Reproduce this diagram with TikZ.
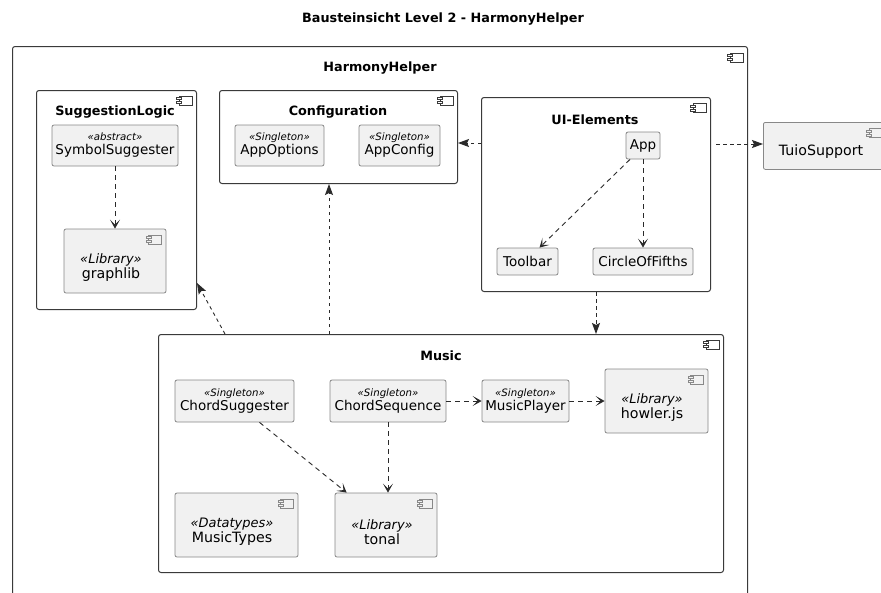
\documentclass[tikz,border=0pt]{standalone}
\usepackage{fontspec}
\setmainfont{DejaVu Sans}
\usetikzlibrary{arrows.meta,calc}
\definecolor{boxfill}{HTML}{F1F1F1}
\definecolor{darkline}{HTML}{3A3A3A}
\definecolor{lightline}{HTML}{888888}
\definecolor{arrowcol}{HTML}{2A2A2A}
\newcommand{\nm}{\fontsize{13.5}{15}\selectfont}
\newcommand{\cnm}{\fontsize{14.2}{16}\selectfont}
\newcommand{\stsmall}{\fontsize{10.2}{12}\selectfont\itshape}
\newcommand{\stbig}{\fontsize{13}{14}\selectfont\itshape}
\newcommand{\hd}{\fontsize{12.8}{15}\selectfont\bfseries}
\tikzset{
  x=1pt, y=-1pt,
  container/.style={draw=darkline, line width=1pt, fill=white, rounded corners=2.5pt, inner sep=0pt},
  classbox/.style={draw=lightline, line width=0.8pt, fill=boxfill, rounded corners=2pt, inner sep=0pt, align=center, font=\nm},
  compbox/.style={draw=lightline, line width=0.8pt, fill=boxfill, rounded corners=2pt, inner sep=0pt},
  lbl/.style={inner sep=0pt, align=center, font=\cnm},
  head/.style={inner sep=0pt, font=\hd},
  compicon/.pic={
    \draw[pic actions] (-6,-4.5) rectangle (7,4.5);
    \draw[pic actions] (-8.5,-3) rectangle (-3.5,-1);
    \draw[pic actions] (-8.5,1) rectangle (-3.5,3);
  },
  darkicon/.style={draw=darkline, line width=0.8pt, fill=white},
  lighticon/.style={draw=lightline, line width=0.7pt, fill=boxfill},
  innerdep/.style={draw=arrowcol, line width=0.9pt, dash pattern=on 5pt off 4pt,
    -{Stealth[length=9pt, width=10pt, inset=5pt]}},
  outerdep/.style={draw=arrowcol, line width=0.9pt, dash pattern=on 3.5pt off 3.5pt,
    -{Stealth[length=11pt, width=8pt, inset=2pt]}},
}
\begin{document}
\begin{tikzpicture}
\useasboundingbox (0,0) rectangle (881,592);
\clip (0,0) rectangle (881,592);
\fill[white] (0,0) rectangle (881,592);

% title
\node[head] (title) at (443,19) {Bausteinsicht Level 2 - HarmonyHelper};

% outer container
\node[container, minimum width=735pt, minimum height=640pt, anchor=north west] (hh) at (12,46) {};
\pic[darkicon] at ($(hh.north east)+(-12,11.5)$) {compicon};
\node[head] (hhlbl) at (380,68) {HarmonyHelper};

% external component
\node[compbox, minimum width=130pt, minimum height=47pt, anchor=north west] (tuio) at (763,122) {};
\pic[lighticon] at ($(tuio.north west)+(112,11)$) {compicon};
\node[lbl] (tuiolbl) at (821,152) {TuioSupport};

% SuggestionLogic
\node[container, minimum width=160pt, minimum height=219pt, anchor=north west] (sugg) at (36,90) {};
\pic[darkicon] at ($(sugg.north east)+(-12,10.5)$) {compicon};
\node[head] (sugglbl) at (115,112) {SuggestionLogic};
\node[classbox, minimum width=126pt, minimum height=41pt] (symsug) at (115,145.5)
  {{\stsmall «abstract»}\\[-1pt]SymbolSuggester};
\node[compbox, minimum width=102pt, minimum height=64pt] (graphlib) at (115,261) {};
\pic[lighticon] at ($(graphlib.north east)+(-12,11)$) {compicon};
\node[lbl] (graphliblbl) at (111,268) {{\stbig «Library»}\\[-1pt]graphlib};

% Configuration
\node[container, minimum width=238pt, minimum height=93pt, anchor=north west] (config) at (219,90) {};
\pic[darkicon] at ($(config.north east)+(-12,10.5)$) {compicon};
\node[head] (configlbl) at (338,112) {Configuration};
\node[classbox, minimum width=89pt, minimum height=41pt] (appopt) at (279.5,145.5)
  {{\stsmall «Singleton»}\\[-1pt]AppOptions};
\node[classbox, minimum width=81pt, minimum height=41pt] (appcfg) at (399.5,145.5)
  {{\stsmall «Singleton»}\\[-1pt]AppConfig};

% UI-Elements
\node[container, minimum width=229pt, minimum height=194pt, anchor=north west] (ui) at (481,97) {};
\pic[darkicon] at ($(ui.north east)+(-12,11)$) {compicon};
\node[head] (uilbl) at (595,120) {UI-Elements};
\node[classbox, minimum width=34pt, minimum height=27pt] (app) at (643,145.5) {App};
\node[classbox, minimum width=61pt, minimum height=27pt] (toolbar) at (527.5,261.5) {Toolbar};
\node[classbox, minimum width=100pt, minimum height=27pt] (circle) at (643,261.5) {CircleOfFifths};

% Music
\node[container, minimum width=565pt, minimum height=238pt, anchor=north west] (music) at (158,334) {};
\pic[darkicon] at ($(music.north east)+(-12,10.5)$) {compicon};
\node[head] (musiclbl) at (441,356) {Music};
\node[classbox, minimum width=119pt, minimum height=42pt] (chordsug) at (234.5,401)
  {{\stsmall «Singleton»}\\[-1pt]ChordSuggester};
\node[classbox, minimum width=116pt, minimum height=42pt] (chordseq) at (388,401)
  {{\stsmall «Singleton»}\\[-1pt]ChordSequence};
\node[classbox, minimum width=87pt, minimum height=42pt] (player) at (525.5,401)
  {{\stsmall «Singleton»}\\[-1pt]MusicPlayer};
\node[compbox, minimum width=103pt, minimum height=64pt] (howler) at (656.5,401) {};
\pic[lighticon] at ($(howler.north east)+(-12,11)$) {compicon};
\node[lbl] (howlerlbl) at (652,408) {{\stbig «Library»}\\[-1pt]howler.js};
\node[compbox, minimum width=123pt, minimum height=64pt] (types) at (236.5,525) {};
\pic[lighticon] at ($(types.north east)+(-12,11)$) {compicon};
\node[lbl] (typeslbl) at (232,532) {{\stbig «Datatypes»}\\[-1pt]MusicTypes};
\node[compbox, minimum width=102pt, minimum height=64pt] (tonal) at (386,525) {};
\pic[lighticon] at ($(tonal.north east)+(-12,11)$) {compicon};
\node[lbl] (tonallbl) at (382,532) {{\stbig «Library»}\\[-1pt]tonal};

% inner dependencies
\draw[innerdep] (symsug.south) -- (graphlib.north);
\draw[innerdep] ($(app.south)+(-13,0)$) -- ($(toolbar.north)+(12,0)$);
\draw[innerdep] (app.south) -- (circle.north);
\draw[innerdep] ($(chordsug.south)+(25,0)$) -- ($(tonal.north west)+(12,0)$);
\draw[innerdep] (chordseq.south) -- (chordseq.south |- tonal.north);
\draw[innerdep] (chordseq.east) -- (player.west);
\draw[innerdep] (player.east) -- (player.east -| howler.west);

% container-level dependencies
\coordinate (uiout) at ($(ui.north west)+(0,46)$);
\draw[outerdep] (uiout) -- (uiout -| config.east);
\coordinate (uiright) at ($(ui.north east)+(5,47)$);
\draw[outerdep] (uiright) -- (uiright -| tuio.west);
\draw[outerdep] (ui.south) -- (ui.south |- music.north);
\coordinate (musicA) at ($(music.north west)+(171,0)$);
\draw[outerdep] (musicA) -- (musicA |- config.south);
\coordinate (musicB) at ($(music.north west)+(67,0)$);
\draw[outerdep] (musicB) -- ($(sugg.south east)+(0,-27)$);
\end{tikzpicture}
\end{document}
